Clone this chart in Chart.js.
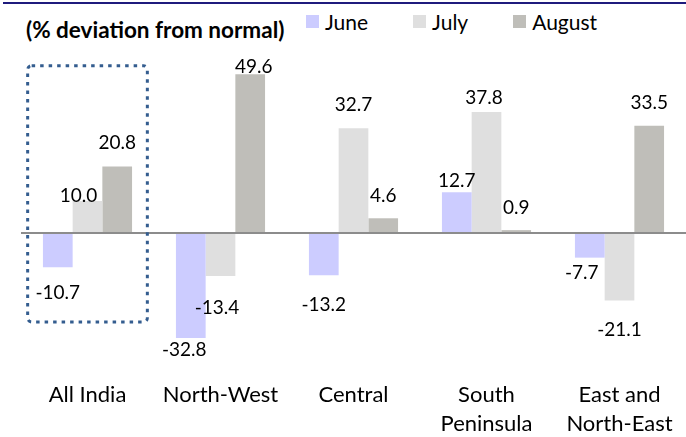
<!DOCTYPE html>
<html>
<head>
<meta charset="utf-8">
<script src="https://cdn.jsdelivr.net/npm/chart.js@4.4.1/dist/chart.umd.min.js"></script>
<style>
  body { margin: 0; background: #fff; }
  #wrap { position: relative; width: 686px; height: 437px; font-family: Lato, sans-serif; }
  #topline { position: absolute; left: 3px; top: 2px; width: 683px; height: 2px; background: #1f1b7d; }
  #title { position: absolute; left: 26px; top: 16px; font-weight: bold; font-size: 22.5px; color: #000; white-space: nowrap; }
  #legend { position: absolute; left: 306px; top: 9px; display: flex; align-items: center; font-size: 21px; color: #000; }
  #legend .item { display: flex; align-items: center; margin-right: 45px; }
  #legend .box { width: 13px; height: 13px; margin-right: 6px; }
  canvas { position: absolute; left: 0; top: 0; }
</style>
</head>
<body>
<div id="wrap">
  <div id="topline"></div>
  <div id="title">(% deviation from normal)</div>
  <div id="legend"></div>
  <canvas id="chart" width="686" height="437"></canvas>
</div>
<script>
// regions and monthly rainfall deviation (%)
const regions = ['All India', 'North-West', 'Central', ['South', 'Peninsula'], ['East and', 'North-East']];
const june = [-10.7, -32.8, -13.2, 12.7, -7.7];
const july = [10.0, -13.4, 32.7, 37.8, -21.1];
const august = [20.8, 49.6, 4.6, 0.9, 33.5];

const seriesNames = ['June', 'July', 'August'];
const seriesColors = ['#ccccff', '#dfdfdf', '#bfbeb9'];

// gap (px) between bar end and label text, and sideways nudge, like the hand-placed labels
const labelGap = [
    [18, 4, 22, 5, 7],
    [-1, 24, 17, 8, 21],
    [17, 1, 16, 16, 17]
];
const labelShift = [
    [0, -6.5, 0, 0, -8],
    [-9, -3.5, 0, -2.5, 0],
    [0, 3.5, 0, 0, 0]
];

const dataLabels = {
    id: 'dataLabels',
    afterDatasetsDraw(chart) {
        const ctx = chart.ctx;
        ctx.save();
        ctx.font = '19px Lato';
        ctx.fillStyle = '#000';
        ctx.textAlign = 'center';
        ctx.textBaseline = 'alphabetic';
        const asc = ctx.measureText('0').actualBoundingBoxAscent;
        chart.data.datasets.forEach((ds, di) => {
            const meta = chart.getDatasetMeta(di);
            meta.data.forEach((bar, i) => {
                const v = ds.data[i];
                const gap = labelGap[di][i];
                const x = bar.x + labelShift[di][i];
                const y = v >= 0 ? bar.y - gap : bar.y + gap + asc;
                ctx.fillText(v.toFixed(1), x, y);
            });
        });
        ctx.restore();
    }
};

// dotted frame round the All India group
const highlight = { index: 0, top: 52.3, bottom: -27.8, widthFrac: 0.9 };

const frameBox = {
    id: 'frameBox',
    afterDraw(chart) {
        const xs = chart.scales.x, ys = chart.scales.y;
        const cw = (xs.right - xs.left) / regions.length;
        const cx = xs.getPixelForValue(highlight.index);
        const l = cx - cw * highlight.widthFrac / 2, r = cx + cw * highlight.widthFrac / 2;
        const t = ys.getPixelForValue(highlight.top), b = ys.getPixelForValue(highlight.bottom);
        const ctx = chart.ctx;
        ctx.save();
        ctx.strokeStyle = '#345d8f';
        ctx.lineWidth = 3;
        ctx.setLineDash([3.5, 5]);
        ctx.beginPath();
        ctx.roundRect(l, t, r - l, b - t, 4);
        ctx.stroke();
        ctx.restore();
    }
};

const ctx = document.getElementById('chart').getContext('2d');
new Chart(ctx, {
    type: 'bar',
    data: {
        labels: regions,
        datasets: [june, july, august].map((d, i) => ({
            label: seriesNames[i],
            data: d,
            backgroundColor: seriesColors[i],
            borderWidth: 0,
            categoryPercentage: 0.67,
            barPercentage: 1
        }))
    },
    options: {
        responsive: false,
        animation: false,
        layout: { padding: { left: 21, right: 0, top: 57, bottom: 0 } },
        plugins: {
            legend: { display: false },
            tooltip: { enabled: false }
        },
        scales: {
            x: {
                grid: { display: false },
                border: { display: false },
                ticks: {
                    color: '#000',
                    font: { family: 'Lato', size: 22, lineHeight: 1.32 },
                    padding: 11,
                    maxRotation: 0,
                    autoSkip: false
                },
                afterFit(scale) { scale.height = 76; }
            },
            y: {
                min: -40,
                max: 55,
                ticks: { display: false, stepSize: 5 },
                grid: {
                    drawTicks: false,
                    lineWidth: 2,
                    color: c => c.tick.value === 0 ? '#8c8c8c' : 'rgba(0,0,0,0)'
                },
                border: { display: false }
            }
        }
    },
    plugins: [dataLabels, frameBox]
});

// legend built from the dataset names and colours
const legendEl = document.getElementById('legend');
seriesNames.forEach((name, i) => {
    const item = document.createElement('div');
    item.className = 'item';
    const box = document.createElement('span');
    box.className = 'box';
    box.style.background = seriesColors[i];
    const txt = document.createElement('span');
    txt.textContent = name;
    item.appendChild(box);
    item.appendChild(txt);
    legendEl.appendChild(item);
});
</script>
</body>
</html>
